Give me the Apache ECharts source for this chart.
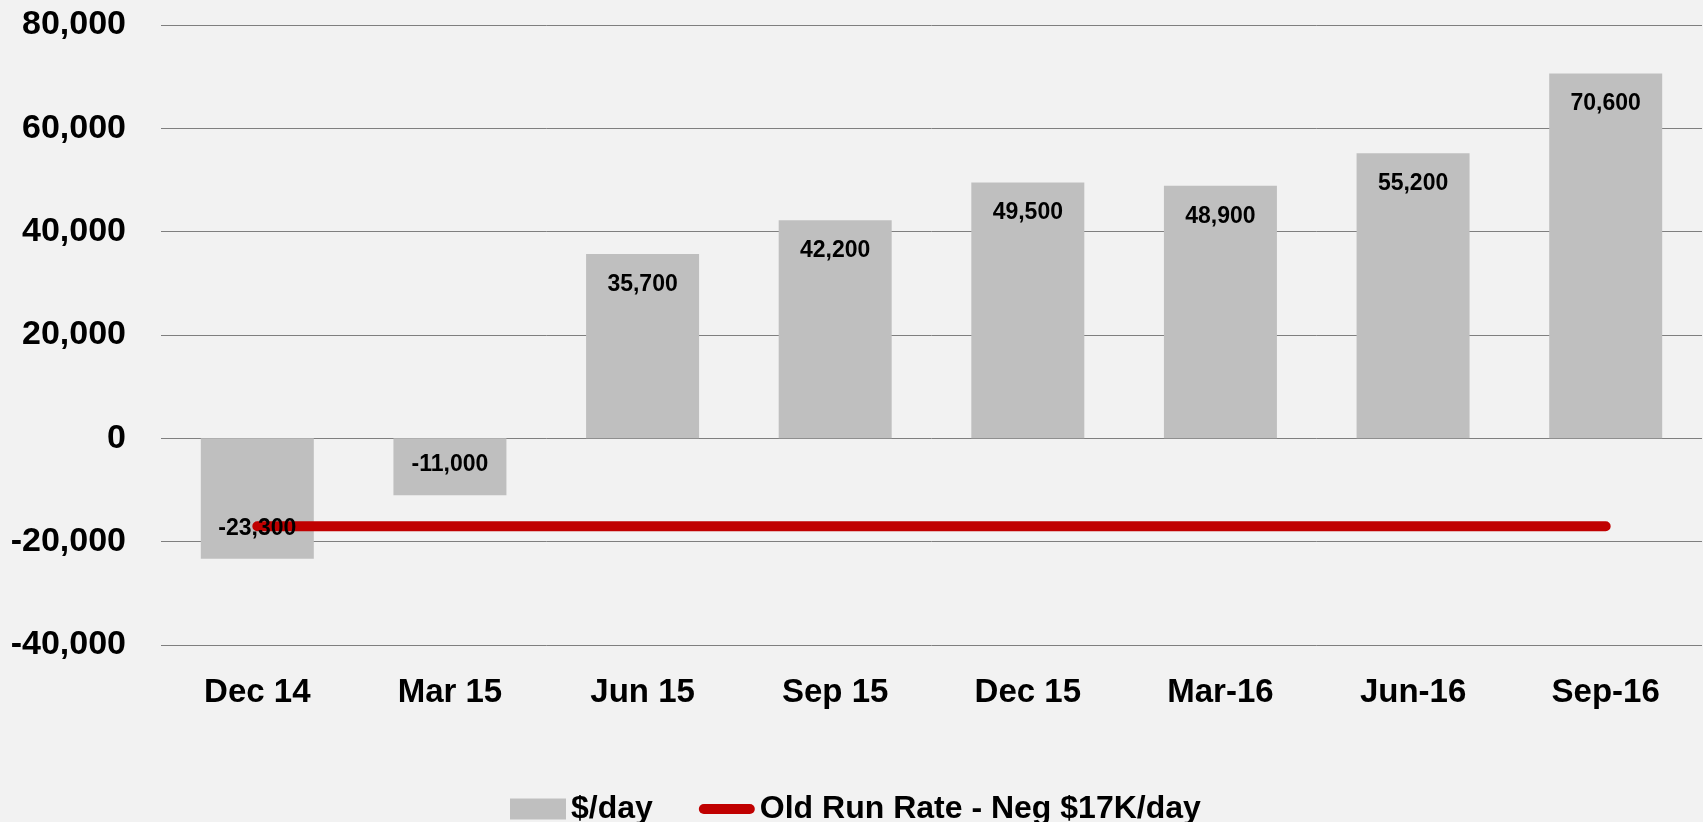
<!DOCTYPE html>
<html>
<head>
<meta charset="utf-8">
<script src="https://cdn.jsdelivr.net/npm/echarts@6/dist/echarts.min.js"></script>
<style>
  html, body { margin: 0; padding: 0; background: #f2f2f2; }
  #chart { width: 1703px; height: 822px; }
</style>
</head>
<body>
<div id="chart"></div>
<script>
const categories = ['Dec 14', 'Mar 15', 'Jun 15', 'Sep 15', 'Dec 15', 'Mar-16', 'Jun-16', 'Sep-16']
const perDay = [-23300, -11000, 35700, 42200, 49500, 48900, 55200, 70600]
const oldRunRate = [-17000, -17000, -17000, -17000, -17000, -17000, -17000, -17000]

const fmt = v => Number(v).toLocaleString('en-US')
const numFont = 'Liberation Sans, Arial, sans-serif'
// rounded red bar for the legend, like the thick line with round caps
const lineIcon = 'path://M5,0 H51 A5,5 0 0 1 51,10 H5 A5,5 0 0 1 5,0 Z'

const myChart = echarts.init(document.getElementById('chart'))

const option = {
  backgroundColor: '#f2f2f2',
  animation: false,
  grid: {
    left: 161,
    right: 1,
    top: 25,
    bottom: 177
  },
  legend: {
    left: 505,
    top: 788,
    itemGap: 46,
    itemWidth: 56,
    itemHeight: 21,
    textStyle: {
      fontFamily: numFont,
      fontWeight: 'bold',
      fontSize: 32,
      color: '#000'
    },
    data: [
      { name: '$/day', icon: 'rect' },
      { name: 'Old Run Rate - Neg $17K/day', icon: lineIcon, itemStyle: { color: '#c00000' } }
    ]
  },
  xAxis: {
    type: 'category',
    data: categories,
    axisLine: { show: false, onZero: false },
    axisTick: { show: false },
    axisLabel: {
      margin: 31,
      fontFamily: numFont,
      fontWeight: 'bold',
      fontSize: 33,
      color: '#000'
    }
  },
  yAxis: {
    type: 'value',
    min: -40000,
    max: 80000,
    interval: 20000,
    axisLine: { show: false },
    axisTick: { show: false },
    splitLine: { lineStyle: { color: '#7f7f7f', width: 1 } },
    axisLabel: {
      margin: 35,
      formatter: fmt,
      fontFamily: numFont,
      fontWeight: 'bold',
      fontSize: 34,
      color: '#000'
    }
  },
  series: [
    {
      name: '$/day',
      type: 'bar',
      data: perDay,
      barWidth: 113,
      z: 2,
      itemStyle: { color: '#bfbfbf' }
    },
    {
      name: 'Old Run Rate - Neg $17K/day',
      type: 'line',
      data: oldRunRate,
      z: 3,
      symbol: 'none',
      lineStyle: { color: '#c00000', width: 10, cap: 'round' },
      itemStyle: { color: '#c00000' }
    },
    {
      // transparent copy of the bars so the value labels sit above the red line
      name: 'labels',
      type: 'bar',
      data: perDay.map(v => ({
        value: v,
        label: { position: v < 0 ? 'insideBottom' : 'insideTop' }
      })),
      barWidth: 113,
      barGap: '-100%',
      z: 4,
      silent: true,
      itemStyle: { color: 'rgba(0,0,0,0)' },
      label: {
        show: true,
        distance: 19,
        formatter: p => fmt(p.value),
        fontFamily: numFont,
        fontWeight: 'bold',
        fontSize: 23,
        color: '#000'
      }
    }
  ]
}

myChart.setOption(option)
window.onresize = myChart.resize
</script>
</body>
</html>
